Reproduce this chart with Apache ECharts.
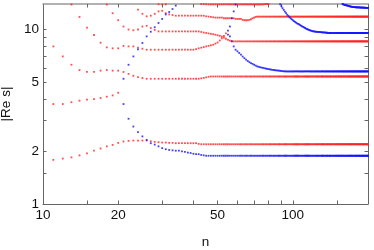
<!DOCTYPE html>
<html><head><meta charset="utf-8">
<script src="https://cdn.jsdelivr.net/npm/echarts@6/dist/echarts.min.js"></script>
<style>html,body{margin:0;padding:0;background:#fff}#c{width:374px;height:250px}</style>
</head><body><div id="c"></div>
<script>
// axis ticks / labels
const xTicks = [15,20,30,40,50,60,70,80,90,100,150];
const xLabels = [10,20,50,100];
const yTicks = [1.5,2,3,4,5,6,7,8,9,10];
const yLabels = [1,2,5,10];

// Each branch: first n, then |Re s| at consecutive integer n
// ---- red (complex) branches ----
const redA_n0 = 11;
const redA = [1.79,1.82,1.85,1.90,1.95,2.02,2.08,2.14,2.18,2.24,2.28,2.30,
2.31,2.31,2.31,2.31,2.29,2.27,2.26,2.25,2.25,2.24,2.24,
2.23,2.23,2.23,2.23,2.23,2.23,2.23,2.23,2.21,
2.2,2.2,2.2,2.2,2.2,2.2,2.2,2.2,2.2,2.2,
2.2,2.2,2.2,2.2,2.2,2.2,2.2,2.2,2.2,2.2,
2.2,2.2,2.2,2.2,2.2,2.2,2.2,2.2,2.2,2.2,
2.2,2.2,2.2,2.2,2.2,2.2,2.2,2.2,2.2,2.2,
2.2,2.2,2.2,2.2,2.2,2.2,2.2,2.2,2.2,2.2,
2.2,2.2,2.2,2.2,2.2,2.2,2.2,2.2,2.2,2.2,
2.2,2.2,2.2,2.2,2.2,2.2,2.2,2.2,2.2,2.2,
2.2,2.2,2.2,2.2,2.2,2.2,2.2,2.2,2.2,2.2,
2.2,2.2,2.2,2.2,2.2,2.2,2.2,2.2,2.2,2.2,
2.2,2.2,2.2,2.2,2.2,2.2,2.2,2.2,2.2,2.2,
2.2,2.2,2.2,2.2,2.2,2.2,2.2,2.2,2.2,2.2,
2.2,2.2,2.2,2.2,2.2,2.2,2.2,2.2,2.2,2.2,
2.2,2.2,2.2,2.2,2.2,2.2,2.2,2.2,2.2,2.2,
2.2,2.2,2.2,2.2,2.2,2.2,2.2,2.2,2.2,2.2,
2.2,2.2,2.2,2.2,2.2,2.2,2.2,2.2,2.2,2.2,
2.2,2.2,2.2,2.2,2.2,2.2,2.2,2.2];

const redB_n0 = 11;
const redB = [3.74,3.74,3.83,3.91,3.96,3.99,4.05,4.12,4.19,4.34];

const redC_n0 = 11;
const redC = [8.0,7.01,6.28,5.85,5.71,5.71,5.81,5.86,5.81,5.81,5.71,5.57,5.43,5.34,5.27,
5.22,5.22,5.22,5.22,5.22,5.22,5.22,5.22,5.22,5.22,5.22,5.22,5.22,5.22,5.22,5.22,5.22,
5.25,5.28,5.32,5.36,
5.38,5.38,5.38,5.38,5.38,5.38,5.38,5.38,5.38,5.38,
5.38,5.38,5.38,5.38,5.38,5.38,5.38,5.38,5.38,5.38,
5.38,5.38,5.38,5.38,5.38,5.38,5.38,5.38,5.38,5.38,
5.38,5.38,5.38,5.38,5.38,5.38,5.38,5.38,5.38,5.38,
5.38,5.38,5.38,5.38,5.38,5.38,5.38,5.38,5.38,5.38,
5.38,5.38,5.38,5.38,5.38,5.38,5.38,5.38,5.38,5.38,
5.38,5.38,5.38,5.38,5.38,5.38,5.38,5.38,5.38,5.38,
5.38,5.38,5.38,5.38,5.38,5.38,5.38,5.38,5.38,5.38,
5.38,5.38,5.38,5.38,5.38,5.38,5.38,5.38,5.38,5.38,
5.38,5.38,5.38,5.38,5.38,5.38,5.38,5.38,5.38,5.38,
5.38,5.38,5.38,5.38,5.38,5.38,5.38,5.38,5.38,5.38,
5.38,5.38,5.38,5.38,5.38,5.38,5.38,5.38,5.38,5.38,
5.38,5.38,5.38,5.38,5.38,5.38,5.38,5.38,5.38,5.38,
5.38,5.38,5.38,5.38,5.38,5.38,5.38,5.38,5.38,5.38,
5.38,5.38,5.38,5.38,5.38,5.38,5.38,5.38,5.38,5.38,
5.38,5.38,5.38,5.38];

const redD_n0 = 13;
const redD = [13.9,11.8,10.25,9.3,8.4,7.9,7.8,7.8,8.05,8.0,8.0,7.88,7.76,
7.66,7.66,7.66,7.66,7.66,7.66,7.66,7.66,7.66,7.66,7.66,7.66,7.66,7.66,7.66,
7.72,7.8,7.87,7.93,8.0,8.06,8.12,8.18,8.3,8.42,8.65,8.9,9.2,9.5];

const redE_n0 = 18;
const redE = [13.9,12.4,11.3,10.4,10.0,9.9,10.0,10.4,10.5,10.2,9.95,
9.75,9.75,9.75,9.75,9.75,9.75,9.75,9.75,9.75,9.75,9.75,9.75,9.75,9.75,
9.68,9.6,9.55,9.5,9.45,9.4,9.33,9.27,9.2,9.1,9.0,8.85,8.72,8.63,8.58,
8.55,8.55,8.55,8.55,8.55,8.55,8.55,8.55,8.55,8.55,
8.55,8.55,8.55,8.55,8.55,8.55,8.55,8.55,8.55,8.55,
8.55,8.55,8.55,8.55,8.55,8.55,8.55,8.55,8.55,8.55,
8.55,8.55,8.55,8.55,8.55,8.55,8.55,8.55,8.55,8.55,
8.55,8.55,8.55,8.55,8.55,8.55,8.55,8.55,8.55,8.55,
8.55,8.55,8.55,8.55,8.55,8.55,8.55,8.55,8.55,8.55,
8.55,8.55,8.55,8.55,8.55,8.55,8.55,8.55,8.55,8.55,
8.55,8.55,8.55,8.55,8.55,8.55,8.55,8.55,8.55,8.55,
8.55,8.55,8.55,8.55,8.55,8.55,8.55,8.55,8.55,8.55,
8.55,8.55,8.55,8.55,8.55,8.55,8.55,8.55,8.55,8.55,
8.55,8.55,8.55,8.55,8.55,8.55,8.55,8.55,8.55,8.55,
8.55,8.55,8.55,8.55,8.55,8.55,8.55,8.55,8.55,8.55,
8.55,8.55,8.55,8.55,8.55,8.55,8.55,8.55,8.55,8.55,
8.55,8.55,8.55,8.55,8.55,8.55,8.55,8.55,8.55,8.55,
8.55,8.55,8.55];

const redH_n0 = 24;
const redH = [13.0,12.3,11.9,12.0,12.3,12.7,12.8,12.4,12.2,12.1,
12.0,12.0,12.0,12.0,12.0,12.0,12.0,12.0,12.0,12.0,12.0,
11.9,11.85,11.8,11.75,11.7,11.7,11.7,11.7,
11.6,11.6,11.6,11.6,11.6,11.6,11.5,11.5,11.5,11.5,
11.35,11.3,11.3,11.3,11.35,11.45,11.6,11.7,11.8,
11.85,11.85,11.85,11.85,11.85,11.85,11.85,11.85,11.85,11.85,
11.85,11.85,11.85,11.85,11.85,11.85,11.85,11.85,11.85,11.85,
11.85,11.85,11.85,11.85,11.85,11.85,11.85,11.85,11.85,11.85,
11.85,11.85,11.85,11.85,11.85,11.85,11.85,11.85,11.85,11.85,
11.85,11.85,11.85,11.85,11.85,11.85,11.85,11.85,11.85,11.85,
11.85,11.85,11.85,11.85,11.85,11.85,11.85,11.85,11.85,11.85,
11.85,11.85,11.85,11.85,11.85,11.85,11.85,11.85,11.85,11.85,
11.85,11.85,11.85,11.85,11.85,11.85,11.85,11.85,11.85,11.85,
11.85,11.85,11.85,11.85,11.85,11.85,11.85,11.85,11.85,11.85,
11.85,11.85,11.85,11.85,11.85,11.85,11.85,11.85,11.85,11.85,
11.85,11.85,11.85,11.85,11.85,11.85,11.85,11.85,11.85,11.85,
11.85,11.85,11.85,11.85,11.85,11.85,11.85,11.85,11.85,11.85,
11.85,11.85,11.85,11.85,11.85,11.85,11.85,11.85,11.85];

const redI1_n0 = 29;
const redI1 = [13.95,13.9,13.95];
const redI2_n0 = 43;
const redI2 = [14.0,13.97,13.94,13.92,13.92,13.92,13.92,13.92,13.92,13.92,
13.92,13.92,13.92,13.92,13.92,13.92,13.92,13.92,13.92,13.92,
13.92,13.92,13.92,13.92,13.92,13.92,13.92,13.92,13.92,13.92,
13.92,13.92,13.92,13.94,13.96,13.98,14.0,14.0];

// ---- blue (real) branches ----
const blue1a_n0 = 21;
const blue1a = [5.22,6.28,7.01,7.7,8.37,9.13,9.71,10.3,10.9,11.5,12.2,12.6,13.1,13.7];

const blue1b_n0 = 21;
const blue1b = [3.74,3.08,2.78,2.58,2.44,2.33,2.23,2.19,2.14,2.09,2.06,2.04,2.03,2.02,
2.02,2.0,1.99,1.97,1.96,1.94,1.93,1.93,1.91,1.90,
1.89,1.89,1.89,1.89,1.89,1.89,1.89,1.89,1.89,1.89,
1.89,1.89,1.89,1.89,1.89,1.89,1.89,1.89,1.89,1.89,
1.89,1.89,1.89,1.89,1.89,1.89,1.89,1.89,1.89,1.89,
1.89,1.89,1.89,1.89,1.89,1.89,1.89,1.89,1.89,1.89,
1.89,1.89,1.89,1.89,1.89,1.89,1.89,1.89,1.89,1.89,
1.89,1.89,1.89,1.89,1.89,1.89,1.89,1.89,1.89,1.89,
1.89,1.89,1.89,1.89,1.89,1.89,1.89,1.89,1.89,1.89,
1.89,1.89,1.89,1.89,1.89,1.89,1.89,1.89,1.89,1.89,
1.89,1.89,1.89,1.89,1.89,1.89,1.89,1.89,1.89,1.89,
1.89,1.89,1.89,1.89,1.89,1.89,1.89,1.89,1.89,1.89,
1.89,1.89,1.89,1.89,1.89,1.89,1.89,1.89,1.89,1.89,
1.89,1.89,1.89,1.89,1.89,1.89,1.89,1.89,1.89,1.89,
1.89,1.89,1.89,1.89,1.89,1.89,1.89,1.89,1.89,1.89,
1.89,1.89,1.89,1.89,1.89,1.89,1.89,1.89,1.89,1.89,
1.89,1.89,1.89,1.89,1.89,1.89,1.89,1.89,1.89,1.89,
1.89,1.89,1.89,1.89,1.89,1.89];

const blue2a_n0 = 55;
const blue2a = [9.85,10.4,11.6,12.7,13.9];

const blue2b_n0 = 55;
const blue2b = [9.35,9.13,8.55,8.0,7.66,7.5,7.34,7.17,7.0,6.85,6.72,6.6,6.5,6.42,6.35,6.28,6.21,6.15,6.11,6.08,
6.05,6.02,6.0,5.97,5.95,5.93,5.91,5.89,5.87,5.86,5.84,5.83,5.82,5.81,5.8,5.78,5.77,5.76,
5.75,5.75,5.75,5.75,5.75,5.75,5.75,5.75,5.75,5.75,
5.75,5.75,5.75,5.75,5.75,5.75,5.75,5.75,5.75,5.75,
5.75,5.75,5.75,5.75,5.75,5.75,5.75,5.75,5.75,5.75,
5.75,5.75,5.75,5.75,5.75,5.75,5.75,5.75,5.75,5.75,
5.75,5.75,5.75,5.75,5.75,5.75,5.75,5.75,5.75,5.75,
5.75,5.75,5.75,5.75,5.75,5.75,5.75,5.75,5.75,5.75,
5.75,5.75,5.75,5.75,5.75,5.75,5.75,5.75,5.75,5.75,
5.75,5.75,5.75,5.75,5.75,5.75,5.75,5.75,5.75,5.75,
5.75,5.75,5.75,5.75,5.75,5.75,5.75,5.75,5.75,5.75,
5.75,5.75,5.75,5.75,5.75,5.75,5.75,5.75,5.75,5.75,
5.75,5.75,5.75,5.75,5.75,5.75,5.75,5.75];

const blue3_n0 = 89;
const blue3 = [13.95,13.6,13.25,12.95,12.65,12.4,12.15,11.95,11.75,11.6,11.45,11.3,
11.17,11.05,10.95,10.85,10.77,10.7,10.6,10.5,10.42,10.35,10.28,10.2,10.12,10.05,10.0,
9.95,9.9,9.86,9.82,9.78,9.76,9.74,9.72,9.71,9.7,9.69,9.68,9.67,9.66,
9.65,9.64,9.63,9.62,9.61,9.6,9.59,9.58,
9.55,9.55,9.55,9.55,9.55,9.55,9.55,9.55,9.55,9.55,
9.55,9.55,9.55,9.55,9.55,9.55,9.55,9.55,9.55,9.55,
9.55,9.55,9.55,9.55,9.55,9.55,9.55,9.55,9.55,9.55,
9.55,9.55,9.55,9.55,9.55,9.55,9.55,9.55,9.55,9.55,
9.55,9.55,9.55,9.55,9.55,9.55,9.55,9.55,9.55,9.55,
9.55,9.55,9.55,9.55,9.55,9.55,9.55,9.55,9.55,9.55,
9.55,9.55,9.55];

const blue4_n0 = 158;
const blue4 = [14.0,13.95,13.9,13.85,13.8,13.78,13.75,13.72,13.7,13.66,13.62,13.58,13.55,13.52,13.5,
13.48,13.46,13.45,13.44,13.43,13.42,13.41,13.4,
13.39,13.39,13.38,13.38,13.37,13.37,13.36,13.36,13.35,13.35,
13.34,13.34,13.33,13.33,13.32,13.32,13.31,13.31,13.3,13.3];

function pts(n0, vals){ return vals.map((v,i)=>[n0+i, v]); }
const redData = [].concat(
  pts(redA_n0, redA), pts(redB_n0, redB), pts(redC_n0, redC), pts(redD_n0, redD),
  pts(redE_n0, redE), pts(redH_n0, redH), pts(redI1_n0, redI1), pts(redI2_n0, redI2));
const blueData = [].concat(
  pts(blue1a_n0, blue1a), pts(blue1b_n0, blue1b), pts(blue2a_n0, blue2a),
  pts(blue2b_n0, blue2b), pts(blue3_n0, blue3), pts(blue4_n0, blue4));

const FONT = 'Liberation Sans, Arial, sans-serif';
const axisColor = '#666';
function xAx(pos, main){
  return {
    type:'log', logBase:10, min:10, max:200, position:pos,
    axisLine:{show:true, onZero:false, lineStyle:{color: pos==='top' ? '#999' : axisColor, width: pos==='top'?1.5:1}},
    axisTick:{show:true, inside:true, length:3.5, customValues:xTicks, lineStyle:{color:axisColor}},
    axisLabel:{show:main, customValues:xLabels, color:'#111', fontSize:13.5, margin:4, fontFamily:FONT},
    splitLine:{show:false}, minorTick:{show:false}, minorSplitLine:{show:false},
    name: main ? 'n' : '', nameLocation:'middle', nameGap:31,
    nameTextStyle:{color:'#111', fontSize:13.5, fontFamily:FONT}
  };
}
function yAx(pos, main){
  return {
    type:'log', logBase:10, min:1, max:14, position:pos,
    axisLine:{show:true, onZero:false, lineStyle:{color: axisColor}},
    axisTick:{show:true, inside:true, length:3.5, customValues:yTicks, lineStyle:{color:axisColor}},
    axisLabel:{show:main, customValues:yLabels, color:'#111', fontSize:13.5, margin:4, fontFamily:FONT},
    splitLine:{show:false}, minorTick:{show:false}, minorSplitLine:{show:false},
    name: main ? '|Re s|' : '', nameLocation:'middle', nameGap:23,
    nameTextStyle:{color:'#111', fontSize:13.5, fontFamily:FONT}
  };
}
const chart = echarts.init(document.getElementById('c'), null, {renderer:'canvas'});
chart.setOption({
  animation:false,
  backgroundColor:'#fff',
  grid:{left:43, right:6, top:4, bottom:46, containLabel:false, outerBoundsMode:'none'},
  xAxis:[xAx('bottom', true), xAx('top', false)],
  yAxis:[yAx('left', true), yAx('right', false)],
  series:[
    {type:'scatter', data:redData, symbol:'rect', symbolSize:1.8, itemStyle:{color:'#ff2020'}, silent:true, xAxisIndex:0, yAxisIndex:0, clip:true},
    {type:'scatter', data:blueData, symbol:'rect', symbolSize:1.8, itemStyle:{color:'#1010ff'}, silent:true, xAxisIndex:0, yAxisIndex:0, clip:true}
  ]
});
</script></body></html>
